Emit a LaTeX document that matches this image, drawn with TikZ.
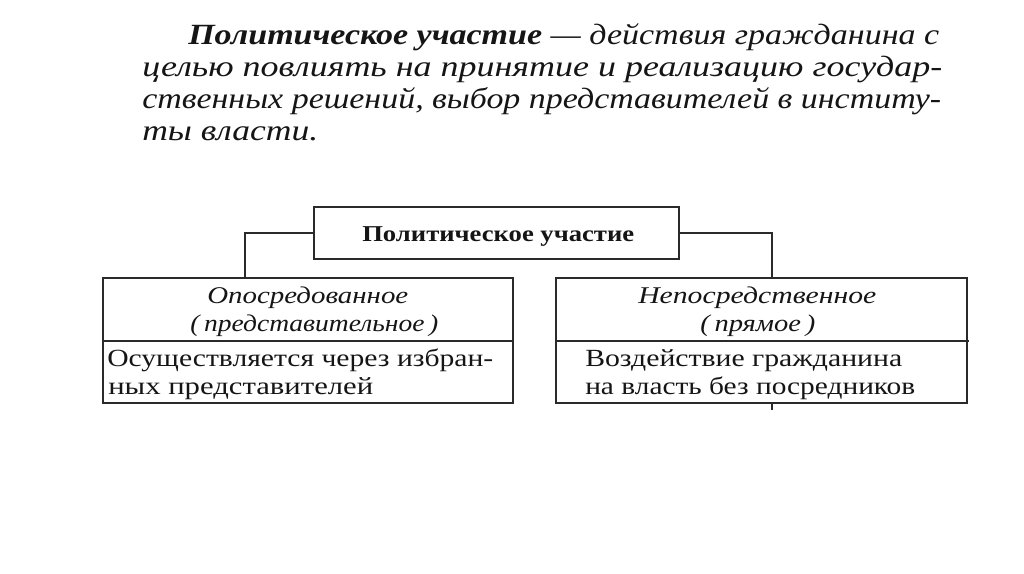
\documentclass[tikz,border=0pt]{standalone}
\usepackage{graphicx}
\usepackage{fontspec}
\setmainfont{Liberation Serif}
\newsavebox\fitbox
\newcommand\fitw[2]{\sbox\fitbox{#2}\pgfmathsetmacro\fitr{#1*0.75/\wd\fitbox}\scalebox{\fitr}[1]{\usebox\fitbox}}
\definecolor{ink}{HTML}{151515}
\definecolor{rule}{HTML}{2A2A2A}
\begin{document}
\begin{tikzpicture}[x=0.75pt,y=-0.75pt,
  boxstyle/.style={draw=rule, line width=1pt, inner sep=0pt},
  txt/.style={inner sep=0pt, anchor=base west, text=ink},
  para/.style={font=\fontsize{22}{26}\selectfont\itshape},
  head/.style={font=\fontsize{18}{22}\selectfont\itshape},
  body/.style={font=\fontsize{18.5}{22}\selectfont},
  conn/.style={draw=rule, line width=1pt}]
\fill[white] (0,0) rectangle (1024,574);
\useasboundingbox (0,0) rectangle (1024,574);

% paragraph
\node[txt,para] (p1) at (188,45) {\fitw{751}{\textbf{Политическое участие} — действия гражданина с}};
\node[txt,para] (p2) at (142,77) {\fitw{800}{целью повлиять на принятие и реализацию государ-}};
\node[txt,para] (p3) at (142,109) {\fitw{799}{ственных решений, выбор представителей в институ-}};
\node[txt,para] (p4) at (142,141) {\fitw{176}{ты власти.}};

% boxes
\node[boxstyle, minimum width=273.75pt, minimum height=39pt] (top) at (496.5,233) {};
\node[boxstyle, minimum width=307.5pt, minimum height=93.75pt] (lb) at (308,340.5) {};
\node[boxstyle, minimum width=308.25pt, minimum height=93.75pt] (rb) at (761.5,340.5) {};
\draw[conn] (lb.west |- 0,341) -- (lb.east |- 0,341);
\draw[conn] (rb.west |- 0,341) -- ([xshift=0.75pt]rb.east |- 0,341);

% top text
\node[txt, font=\fontsize{17}{20}\selectfont\bfseries] (tt) at (362,241) {\fitw{272}{Политическое участие}};

% left box text
\node[txt,head] (lh1) at (207,303) {\fitw{201}{Опосредованное}};
\node[txt,head] (lh2) at (190,331) {\fitw{248}{(\,представительное\,)}};
\node[txt,body] (lt1) at (107,366) {\fitw{386}{Осуществляется через избран-}};
\node[txt,body] (lt2) at (108,394) {\fitw{265}{ных представителей}};

% right box text
\node[txt,head] (rh1) at (638,303) {\fitw{238}{Непосредственное}};
\node[txt,head] (rh2) at (700,331) {\fitw{115}{(\,прямое\,)}};
\node[txt,body] (rt1) at (585,366) {\fitw{317}{Воздействие гражданина}};
\node[txt,body] (rt2) at (585,394) {\fitw{330}{на власть без посредников}};

% connectors
\coordinate (lj) at (245,278);
\coordinate (rj) at (772,278);
\draw[conn] (top.west) -| (lj);
\draw[conn] (top.east) -| (rj);
\coordinate (tk1) at (772,403);
\coordinate (tk2) at (772,410);
\draw[draw=rule, line width=0.8pt] (tk1) -- (tk2);
\end{tikzpicture}
\end{document}
